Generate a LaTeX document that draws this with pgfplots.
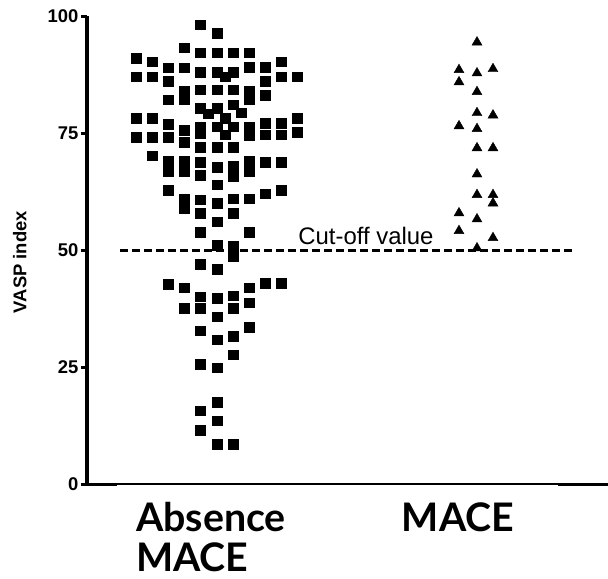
\documentclass[border=0pt]{standalone}
\usepackage{fontspec}
\setmainfont{Liberation Sans}
\newfontfamily\lato{Lato}
\usepackage{pgfplots}
\pgfplotsset{compat=1.18}
\begin{document}
\begin{tikzpicture}
\begin{axis}[
 at={(87bp,-484bp)}, anchor=south west,
 scale only axis, width=521bp, height=468bp,
 xmin=87, xmax=608, ymin=0, ymax=100,
 axis x line=bottom, axis y line=left,
 axis line style={-},
 x axis line style={line width=1.2bp},
 y axis line style={line width=3bp},
 ytick={0,25,50,75,100},
 ytick style={line width=3bp, black},
 tick align=outside, major tick length=6bp,
 xtick={211,458},
 xtick style={draw=none},
 xticklabels={{Absence\\MACE},{MACE}},
 xticklabel style={align=left, font=\lato\bfseries\fontsize{39.5}{40}\selectfont, yshift=-9bp},
 yticklabel style={font=\bfseries\fontsize{18.5}{18.5}\selectfont, xshift=1bp},
 /pgf/number format/assume math mode=true,
 ylabel={VASP index},
 ylabel style={font=\bfseries\fontsize{18.5}{18.5}\selectfont, at={(axis description cs:-0.129,0.474)}, anchor=center},
 clip=false,
]
\addplot[line width=3bp, dash pattern=on 8bp off 4bp] coordinates {(120,50) (575,50)};
\addplot[line width=3bp] coordinates {(87,0) (117,0)};
\addplot[line width=3bp] coordinates {(558,0) (608,0)};
\addplot[only marks, mark=square*, mark size=4.7bp, mark options={fill=black, draw=none}] table {
x y
136 91.0
136 87.0
136 78.2
136 74.1
152 90.2
152 87.0
152 78.2
152 74.1
152 70.1
168 88.9
168 86.1
168 82.1
168 76.9
168 74.1
168 69.0
168 66.7
168 62.8
168 42.7
184 93.2
184 88.9
184 84.0
184 82.1
184 75.6
184 73.0
184 69.0
184 66.7
184 60.9
184 58.8
184 41.9
184 37.6
200 98.2
200 92.1
200 88.0
200 84.2
200 80.3
200 76.3
200 74.8
200 72.0
200 68.8
200 66.0
200 60.7
200 57.9
200 53.8
200 47.0
200 40.0
200 37.6
200 32.7
200 25.6
200 15.6
200 11.5
208 79.1
217 96.3
217 92.1
217 88.0
217 84.2
217 80.3
217 76.3
217 72.0
217 67.7
217 64.0
217 60.0
217 56.0
217 51.0
217 45.9
217 39.7
217 35.7
217 30.8
217 24.8
217 17.5
217 13.5
217 8.5
225 87.0
225 78.2
225 74.6
233 92.1
233 88.0
233 84.2
233 81.0
233 76.3
233 72.0
233 67.9
233 65.8
233 60.9
233 57.9
233 50.9
233 48.7
233 40.2
233 37.6
233 31.6
233 27.6
233 8.5
241 79.3
249 92.1
249 89.1
249 84.0
249 82.1
249 76.3
249 74.4
249 69.0
249 66.7
249 60.9
249 53.8
249 41.9
249 38.7
249 33.5
265 89.1
265 86.1
265 83.1
265 77.1
265 74.6
265 68.8
265 62.0
265 42.9
281 90.2
281 87.0
281 77.1
281 74.6
281 68.8
281 62.8
281 42.9
297 87.0
297 78.2
297 75.2
};
\addplot[only marks, mark=triangle*, mark size=5.7bp, mark options={fill=black, draw=none}] table {
x y
459 88.5
459 85.9
459 76.5
459 57.9
459 54.1
477 94.4
477 87.8
477 83.8
477 79.3
477 75.9
477 71.8
477 66.2
477 61.8
477 56.6
477 50.4
493 88.7
493 78.8
493 71.8
493 61.8
493 60.0
493 52.6
};
\node[anchor=base, inner sep=0, font=\fontsize{24}{24}\selectfont] at (axis cs:366,51.1) {Cut-off value};
\end{axis}
\pgfresetboundingbox
\path[use as bounding box] (0bp,0bp) rectangle (608bp,-579bp);
\end{tikzpicture}
\end{document}
